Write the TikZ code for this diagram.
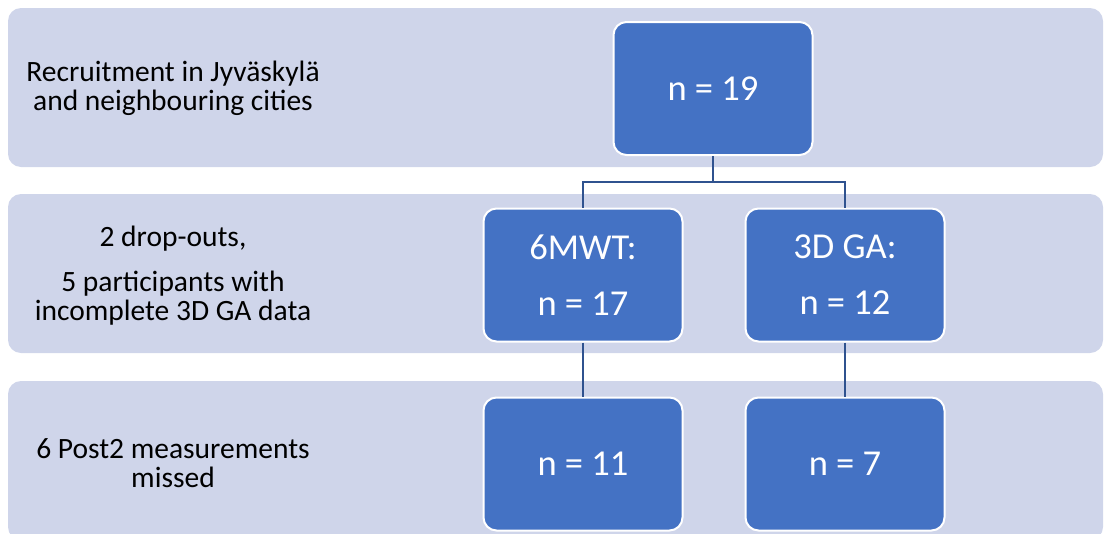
\documentclass[tikz,border=0pt]{standalone}
\usepackage{fontspec}
\setmainfont{Carlito}
\usetikzlibrary{positioning}
\definecolor{bandfill}{HTML}{CFD5EA}
\definecolor{boxfill}{HTML}{4472C4}
\definecolor{linkblue}{HTML}{2F528F}

\begin{document}
\begin{tikzpicture}[x=1pt, y=-1pt,
    band/.style={fill=bandfill, rounded corners=13pt, minimum width=1095pt, minimum height=159pt, inner sep=0pt},
    count/.style={draw=white, line width=2pt, fill=boxfill, rounded corners=13pt, minimum width=199pt, minimum height=133pt, inner sep=0pt, align=center, text=white, font=\fontsize{36.5}{56}\selectfont},
    note/.style={align=center, font=\fontsize{29.5}{29}\selectfont},
    link/.style={draw=linkblue, line width=2.8pt}]
  \useasboundingbox (0,0) rectangle (1105,533);
  % background rows
  \node[band] (row1) at (555.5,87.5) {};
  \node[band] (row2) at (555.5,273.5) {};
  \node[band] (row3) at (555.5,460.5) {};

  \node[note] (recruit) at (173,88) {Recruitment in Jyväskylä\\and neighbouring cities};
  \node[note] (drop) at (173,276) {2 drop-outs,\\[16pt]5 participants with\\incomplete 3D GA data};
  \node[note] (missed) at (173,463) {6 Post2 measurements\\missed};

  \node[count] (top) at (713,88.5) {n = 19};
  \node[count] (mwt) at (583,275) {6MWT:\\n = 17};
  \node[count, right=61pt of mwt] (ga) {3D GA:\\n = 12};
  \node[count, below=54pt of mwt] (mwtpost) {n = 11};
  \node[count, below=54pt of ga] (gapost) {n = 7};

  \draw[link] (top.south) -- ++(0,26) -| (mwt.north);
  \draw[link] (top.south) -- ++(0,26) -| (ga.north);
  \draw[link] (mwt) -- (mwtpost);
  \draw[link] (ga) -- (gapost);
\end{tikzpicture}
\end{document}
